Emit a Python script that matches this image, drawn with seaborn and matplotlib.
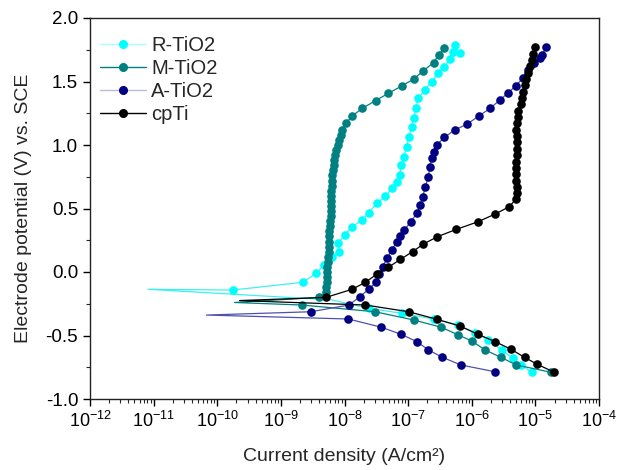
import numpy as np
import pandas as pd
import matplotlib
matplotlib.use("Agg")
import matplotlib.pyplot as plt
from matplotlib.lines import Line2D
from matplotlib.ticker import MultipleLocator, AutoMinorLocator, LogLocator, NullFormatter
import seaborn as sns

# ---------------- data (log10 of current density in A/cm^2, potential in V vs SCE) -------------
r_E = [-0.79, -0.73, -0.68, -0.614, -0.535, -0.478, -0.417, -0.37, -0.325, -0.286, -0.22,
       -0.136, -0.142, -0.081, -0.01, 0.055, 0.12, 0.16, 0.226, 0.291, 0.357, 0.409, 0.467,
       0.541, 0.598, 0.659, 0.711, 0.764, 0.843, 0.908, 0.987, 1.065, 1.144, 1.21, 1.289,
       1.368, 1.433, 1.498, 1.565, 1.617, 1.675, 1.735, 1.787, 1.722]
r_logI = [-5.06, -5.22, -5.35, -5.53, -5.74, -5.95, -6.21, -6.60, -7.10, -7.62, -8.20,
          -11.09, -9.76, -8.65, -8.45, -8.32, -8.19, -8.09, -8.10, -8.00, -7.88, -7.72, -7.62,
          -7.49, -7.36, -7.25, -7.18, -7.13, -7.11, -7.07, -7.02, -6.99, -6.94, -6.91, -6.88,
          -6.84, -6.74, -6.63, -6.53, -6.43, -6.34, -6.30, -6.27, -6.18]
r_nomark = [10, 11]

m_E = [-0.79, -0.732, -0.672, -0.614, -0.543, -0.496, -0.435, -0.378, -0.313, -0.26, -0.24,
       -0.20, -0.16, -0.12, -0.08, -0.04, 0.0, 0.04, 0.08, 0.12, 0.16, 0.20, 0.24, 0.28, 0.32,
       0.36, 0.40, 0.44, 0.48, 0.52, 0.56, 0.60, 0.64, 0.68, 0.72, 0.76, 0.80, 0.84, 0.88,
       0.92, 0.96, 1.00, 1.04, 1.08, 1.118, 1.17, 1.228, 1.289, 1.35, 1.407, 1.465, 1.52,
       1.585, 1.648, 1.709, 1.761]
m_logI = [-4.75, -5.30, -5.54, -5.79, -6.00, -6.21, -6.48, -6.91, -7.52, -8.67, -9.73,
          -8.40, -8.29, -8.29, -8.28, -8.28, -8.27, -8.27, -8.26, -8.26, -8.25, -8.25, -8.25,
          -8.24, -8.24, -8.23, -8.23, -8.22, -8.22, -8.22, -8.21, -8.21, -8.21, -8.20, -8.20,
          -8.19, -8.18, -8.17, -8.16, -8.15, -8.13, -8.11, -8.09, -8.06, -8.04, -7.98, -7.88,
          -7.72, -7.51, -7.31, -7.10, -6.91, -6.76, -6.60, -6.52, -6.44]
m_nomark = [10]

a_E = [-0.785, -0.732, -0.672, -0.614, -0.549, -0.491, -0.435, -0.37, -0.339, -0.313,
       -0.26, -0.195, -0.136, -0.076, -0.016, 0.042, 0.108, 0.173, 0.239, 0.285, 0.33,
       0.396, 0.462, 0.53, 0.593, 0.672, 0.75, 0.83, 0.895, 0.947, 1.0, 1.06, 1.118, 1.165,
       1.228, 1.289, 1.354, 1.41, 1.465, 1.525, 1.59, 1.643, 1.683, 1.709, 1.774]
a_logI = [-5.64, -6.17, -6.46, -6.68, -6.86, -7.11, -7.42, -7.94, -10.17, -8.53,
          -7.93, -7.76, -7.62, -7.50, -7.46, -7.40, -7.33, -7.26, -7.17, -7.12, -7.06,
          -6.96, -6.86, -6.81, -6.77, -6.73, -6.68, -6.66, -6.63, -6.60, -6.55, -6.43, -6.27,
          -6.07, -5.89, -5.71, -5.56, -5.43, -5.31, -5.20, -5.11, -5.02, -4.93, -4.89, -4.83]
a_nomark = [8]

c_E = [-0.79, -0.727, -0.672, -0.609, -0.549, -0.491, -0.425, -0.372, -0.313, -0.26, -0.225,
       -0.20, -0.136, -0.081, -0.016, 0.037, 0.10, 0.16, 0.22, 0.278, 0.336, 0.396, 0.457,
       0.514, 0.572, 0.62, 0.67, 0.72, 0.77, 0.82, 0.87, 0.92, 0.97, 1.02, 1.07, 1.12, 1.17,
       1.22, 1.27, 1.32, 1.37, 1.42, 1.47, 1.52, 1.57, 1.62, 1.67, 1.72, 1.77]
c_logI = [-4.70, -4.97, -5.17, -5.38, -5.63, -5.90, -6.19, -6.55, -6.99, -7.67, -9.65,
          -8.29, -7.88, -7.67, -7.49, -7.31, -7.12, -6.93, -6.76, -6.54, -6.24, -5.90, -5.63,
          -5.41, -5.31, -5.29, -5.29, -5.30, -5.30, -5.30, -5.30, -5.29, -5.29, -5.29, -5.29,
          -5.30, -5.29, -5.28, -5.27, -5.23, -5.21, -5.19, -5.17, -5.14, -5.11, -5.08, -5.06,
          -5.03, -5.00]
c_nomark = [10]

labels = ["R-TiO2", "M-TiO2", "A-TiO2", "cpTi"]
marker_colors = ["#00ffff", "#008080", "#000080", "#000000"]
line_colors = ["#40f0f0", "#008080", "#5050b0", "#000000"]
legend_line_colors = ["#a8ffff", "#008080", "#b8b8e0", "#000000"]

series = [(r_E, r_logI, r_nomark), (m_E, m_logI, m_nomark),
          (a_E, a_logI, a_nomark), (c_E, c_logI, c_nomark)]

# ---------------- plotting -------------
sns.set_theme(style="white")
plt.rcParams["font.family"] = ["Liberation Sans", "DejaVu Sans"]
plt.rcParams["mathtext.fontset"] = "custom"
plt.rcParams["mathtext.rm"] = "Liberation Sans"

fig = plt.figure(figsize=(6.17, 4.70), dpi=100)
ax = fig.add_axes([90 / 617, 1 - 399 / 470, 509 / 617, 381 / 470])
ax.set_xscale("log")

for (E, logI, nomark), lab, mc, lc in zip(series, labels, marker_colors, line_colors):
    df = pd.DataFrame({"i": np.power(10.0, logI), "E": E})
    mask = [k not in nomark for k in range(len(E))]
    sns.lineplot(data=df, x="i", y="E", sort=False, estimator=None, ax=ax,
                 color=lc, linewidth=0.9, marker="o", markersize=6.2,
                 markerfacecolor=mc, markeredgecolor=mc, markeredgewidth=0,
                 markevery=mask, legend=False)

ax.set_xlim(1e-12, 1e-4)
ax.set_ylim(-1.0, 2.0)
ax.xaxis.set_major_locator(LogLocator(base=10, numticks=20))
ax.xaxis.set_minor_locator(LogLocator(base=10, subs=np.arange(2, 10), numticks=100))
ax.xaxis.set_minor_formatter(NullFormatter())
ax.yaxis.set_major_locator(MultipleLocator(0.5))
ax.yaxis.set_minor_locator(AutoMinorLocator(2))
ax.yaxis.set_major_formatter(matplotlib.ticker.FormatStrFormatter("%.1f"))

ax.tick_params(axis="both", which="major", direction="out", length=5, width=1,
               labelsize=13.5, colors="black", bottom=True, left=True)
ax.tick_params(axis="x", which="major", labelsize=13)
ax.tick_params(axis="both", which="minor", direction="out", length=3, width=0.8,
               bottom=True, left=True)
for sp in ax.spines.values():
    sp.set_color("#222222")
    sp.set_linewidth(1.0)

ax.set_xlabel("Current density (A/cm²)", fontsize=14, labelpad=12)
ax.set_ylabel("Electrode potential (V) vs. SCE", fontsize=14, labelpad=10)

handles = [Line2D([0], [0], color=llc, lw=1.0, marker="o", markersize=5.5,
                  markerfacecolor=mc, markeredgecolor=mc)
           for llc, mc in zip(legend_line_colors, marker_colors)]
ax.legend(handles, labels, loc="upper left", bbox_to_anchor=(-0.012, 0.995), frameon=False,
          fontsize=14.5, handlelength=2.3, handletextpad=0.25, labelspacing=0.2,
          borderaxespad=0.4)

fig.savefig("out.png", dpi=100)
